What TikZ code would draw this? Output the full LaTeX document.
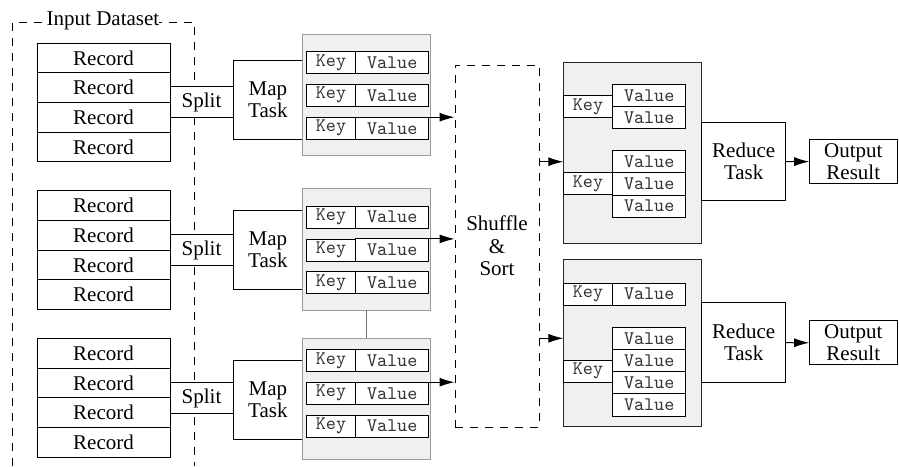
\documentclass[tikz,border=0pt]{standalone}
\usepackage{fontspec}
\setmainfont{Liberation Serif}
\usepackage{tikz}
\usetikzlibrary{arrows.meta, positioning}

\definecolor{boxfill}{HTML}{F0F0F0}

\begin{document}
\begin{tikzpicture}[x=0.5pt, y=-0.5pt, line width=0.5pt, >={Latex[length=7.5pt,width=4.5pt]},
longdash/.style={dash pattern=on 4pt off 3.5pt},
rec/.style={draw, minimum width=66.5pt, minimum height=14.85pt, inner sep=0pt, outer sep=0pt, font=\fontsize{10.5}{12}\selectfont},
splitbox/.style={draw, fill=white, minimum width=31.5pt, minimum height=15.25pt, inner sep=0pt, outer sep=0pt, font=\fontsize{10.5}{12}\selectfont},
task/.style={draw, fill=white, align=center, inner sep=0pt, outer sep=0pt, font=\fontsize{10.5}{11}\selectfont},
mapgroup/.style={draw=black!40, fill=boxfill, minimum width=63.65pt, minimum height=60.75pt, inner sep=0pt, outer sep=0pt},
redgroup/.style={draw=black!85, fill=boxfill, minimum width=69.2pt, inner sep=0pt, outer sep=0pt},
keycell/.style={draw, fill=white, minimum width=24.5pt, minimum height=11pt, inner sep=0pt, outer sep=0pt, text=black!80, font=\fontsize{9.6}{10}\ttfamily},
valcell/.style={draw, fill=white, minimum width=36.7pt, minimum height=11.1pt, inner sep=0pt, outer sep=0pt, text=black!80, font=\fontsize{9.6}{10}\ttfamily}]
\useasboundingbox (0,0) rectangle (899,466);

% input dataset frame
\draw[longdash] (12,466) |- (194,22.7) -- (194,466);
\node[fill=white, inner sep=0pt, font=\fontsize{10.5}{12}\selectfont] (inlabel) at (103,20.5) {Input Dataset};

% records
\node[rec] (r1a) at (103.5,57.85) {Record};
\node[rec, below=0pt of r1a] (r1b) {Record};
\node[rec, below=0pt of r1b] (r1c) {Record};
\node[rec, below=0pt of r1c] (r1d) {Record};
\node[rec] (r2a) at (103.5,205.55) {Record};
\node[rec, below=0pt of r2a] (r2b) {Record};
\node[rec, below=0pt of r2b] (r2c) {Record};
\node[rec, below=0pt of r2c] (r2d) {Record};
\node[rec] (r3a) at (103.5,353.15) {Record};
\node[rec, below=0pt of r3a] (r3b) {Record};
\node[rec, below=0pt of r3b] (r3c) {Record};
\node[rec, below=0pt of r3c] (r3d) {Record};

% split and map
\node[splitbox] (split1) at (201.5,102) {Split};
\node[splitbox] (split2) at (201.5,250.2) {Split};
\node[splitbox] (split3) at (201.5,398) {Split};
\node[task, minimum width=34.85pt, minimum height=39.5pt] (map1) at (267.85,99.5) {Map\\Task};
\node[task, minimum width=34.85pt, minimum height=39.5pt] (map2) at (267.85,249.65) {Map\\Task};
\node[task, minimum width=34.85pt, minimum height=39.5pt] (map3) at (267.85,400) {Map\\Task};

% intermediate key/value pairs
\node[mapgroup] (mg1) at (366.35,95) {};
\node[mapgroup] (mg2) at (366.35,249.65) {};
\node[mapgroup] (mg3) at (366.35,398.8) {};
\draw[black!55] (mg2.south) -- (mg3.north);
\node[keycell] (k1a) at (331,62.65) {Key};
\node[valcell, right=0pt of k1a] (v1a) {Value};
\node[keycell] (k1b) at (331,95.3) {Key};
\node[valcell, right=0pt of k1b] (v1b) {Value};
\node[keycell] (k1c) at (331,128.3) {Key};
\node[valcell, right=0pt of k1c] (v1c) {Value};
\node[keycell] (k2a) at (331,217.2) {Key};
\node[valcell, right=0pt of k2a] (v2a) {Value};
\node[keycell] (k2b) at (331,250) {Key};
\node[valcell, right=0pt of k2b] (v2b) {Value};
\node[keycell] (k2c) at (331,282.8) {Key};
\node[valcell, right=0pt of k2c] (v2c) {Value};
\node[keycell] (k3a) at (331,360.5) {Key};
\node[valcell, right=0pt of k3a] (v3a) {Value};
\node[keycell] (k3b) at (331,393.3) {Key};
\node[valcell, right=0pt of k3b] (v3b) {Value};
\node[keycell] (k3c) at (331,426.2) {Key};
\node[valcell, right=0pt of k3c] (v3c) {Value};

% shuffle
\node[draw, longdash, align=center, minimum width=42pt, minimum height=181pt, inner sep=0pt, font=\fontsize{10.5}{11.25}\selectfont] (shuf) at (497,246) {Shuffle\\\&\\Sort};

% reduce input groups
\node[redgroup, minimum height=90.3pt] (rg1) at (632.5,153) {};
\node[keycell] (ka) at (588,106.7) {Key};
\node[valcell] (va1) at (649.2,95.6) {Value};
\node[valcell, below=0pt of va1] (va2) {Value};
\node[keycell] (kb) at (588,183.8) {Key};
\node[valcell] (vb1) at (649.2,161.7) {Value};
\node[valcell, below=0pt of vb1] (vb2) {Value};
\node[valcell, below=0pt of vb2] (vb3) {Value};
\node[redgroup, minimum height=83.85pt] (rg2) at (632.5,342.85) {};
\node[keycell] (kc) at (588,294.2) {Key};
\node[valcell, right=0pt of kc] (vc) {Value};
\node[keycell] (kd) at (588,371.2) {Key};
\node[valcell] (vd1) at (649.2,338.3) {Value};
\node[valcell, below=0pt of vd1] (vd2) {Value};
\node[valcell, below=0pt of vd2] (vd3) {Value};
\node[valcell, below=0pt of vd3] (vd4) {Value};

% reduce and output
\node[task, minimum width=42pt, minimum height=39.4pt] (red1) at (743.7,161.5) {Reduce\\Task};
\node[task, minimum width=42pt, minimum height=39.8pt] (red2) at (743.7,342.7) {Reduce\\Task};
\node[task, minimum width=44.1pt, minimum height=21.8pt] (out1) at (853.3,161.7) {Output\\Result};
\node[task, minimum width=44.1pt, minimum height=22.1pt] (out2) at (853.3,342.8) {Output\\Result};

% connectors
\draw[->] (v1c.north east) -- (v1c.north east -| shuf.west);
\draw[->] (v2b.north east) -- (v2b.north east -| shuf.west);
\draw[->] (v3b.north east) -- (v3b.north east -| shuf.west);
\draw[->] (shuf.east |- vb1) -- (rg1.west |- vb1);
\draw[->] (shuf.east |- vd1) -- (rg2.west |- vd1);
\draw[->] (red1) -- (out1);
\draw[->] (red2) -- (out2);
\end{tikzpicture}
\end{document}
